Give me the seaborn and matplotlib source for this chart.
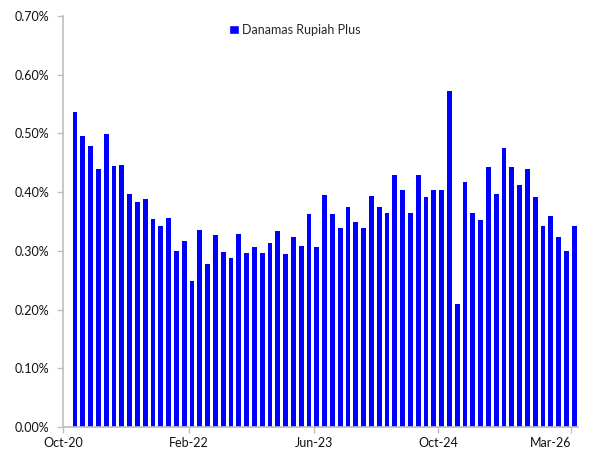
import seaborn as sns
import matplotlib.pyplot as plt
from matplotlib.patches import Patch
import pandas as pd

# Monthly expense ratio (%) - Danamas Rupiah Plus, Oct-20 onwards
values = [
    0.537, 0.496, 0.479, 0.440, 0.499, 0.445, 0.446, 0.397, 0.383, 0.388,
    0.354, 0.342, 0.356, 0.300, 0.317, 0.249, 0.336, 0.278, 0.327, 0.298,
    0.288, 0.328, 0.297, 0.307, 0.296, 0.313, 0.334, 0.294, 0.324, 0.309,
    0.362, 0.307, 0.396, 0.362, 0.339, 0.374, 0.350, 0.339, 0.394, 0.374,
    0.365, 0.429, 0.404, 0.365, 0.430, 0.391, 0.404, 0.404, 0.572, 0.209,
    0.418, 0.365, 0.353, 0.443, 0.397, 0.476, 0.443, 0.413, 0.439, 0.392,
    0.342, 0.360, 0.324, 0.299, 0.343,
]
series_name = "Danamas Rupiah Plus"
tick_pos = [-1.5, 14.6, 30.6, 46.6, 63.6]
tick_labels = ["Oct-20", "Feb-22", "Jun-23", "Oct-24", "Mar-26"]
y_ticks = [0.0, 0.1, 0.2, 0.3, 0.4, 0.5, 0.6, 0.7]

df = pd.DataFrame({"idx": range(len(values)), "value": values})

sns.set_style("white")
plt.rcParams["font.family"] = ["Lato", "DejaVu Sans"]

fig, ax = plt.subplots(figsize=(5.96, 4.51), dpi=100)
fig.subplots_adjust(left=0.1062, right=0.970, top=0.9645, bottom=0.0532)

sns.barplot(data=df, x="idx", y="value", color="#0000FF", saturation=1,
            width=0.6, linewidth=0, ax=ax)

ax.set_xlim(-1.5, 64.5)
ax.set_ylim(0, 0.7)

ax.set_xticks(tick_pos)
ax.set_xticklabels(tick_labels, fontsize=9, color="#111111")
ax.get_xticklabels()[-1].set_ha("right")
ax.set_yticks(y_ticks)
ax.set_yticklabels([f"{v:.2f}%" for v in y_ticks], fontsize=9, color="#111111")

ax.set_xlabel("")
ax.set_ylabel("")

for side in ["top", "right"]:
    ax.spines[side].set_visible(False)
for side in ["left", "bottom"]:
    ax.spines[side].set_color("#BFBFBF")
    ax.spines[side].set_linewidth(1.2)
ax.tick_params(axis="both", which="both", direction="out", length=4,
               color="#BFBFBF", width=1, bottom=True, left=True)
ax.tick_params(axis="x", pad=3)
ax.tick_params(axis="y", pad=6)

ax.legend(handles=[Patch(facecolor="#0000FF", label=series_name)],
          loc="center left", bbox_to_anchor=(0.31, 0.966), frameon=False,
          handlelength=0.75, handleheight=0.75, handletextpad=0.3,
          borderpad=0, fontsize=9)

fig.savefig("out.png", dpi=100)
